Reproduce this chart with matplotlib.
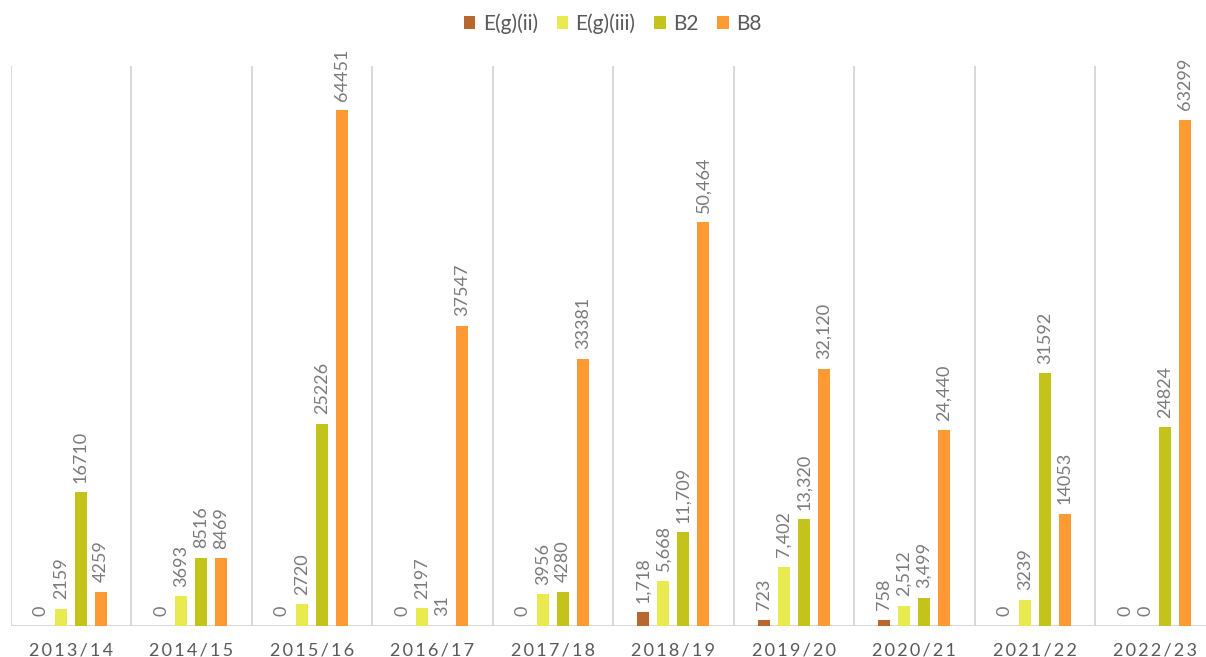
import matplotlib
matplotlib.use("Agg")
import matplotlib.pyplot as plt
import numpy as np

years = ["2013/14", "2014/15", "2015/16", "2016/17", "2017/18",
         "2018/19", "2019/20", "2020/21", "2021/22", "2022/23"]

series_names = ["E(g)(ii)", "E(g)(iii)", "B2", "B8"]

eg_ii = [0, 0, 0, 0, 0, 1718, 723, 758, 0, 0]
eg_iii = [2159, 3693, 2720, 2197, 3956, 5668, 7402, 2512, 3239, 0]
b2 = [16710, 8516, 25226, 31, 4280, 11709, 13320, 3499, 31592, 24824]
b8 = [4259, 8469, 64451, 37547, 33381, 50464, 32120, 24440, 14053, 63299]

# years whose labels use thousands separators
comma_years = ["2018/19", "2019/20", "2020/21"]

colors = ["#b8672e", "#e8ea50", "#c3c31b", "#fe9a33"]

plt.rcParams["font.family"] = ["Lato", "DejaVu Sans"]

fig = plt.figure(figsize=(12.06, 6.57), dpi=100)
ax = fig.add_axes([10.5 / 1206, 31 / 657, 1195.5 / 1206, 560 / 657])

x = np.arange(len(years))
step = 0.166
width = 0.1
all_series = [eg_ii, eg_iii, b2, b8]

for i, (name, vals, col) in enumerate(zip(series_names, all_series, colors)):
    pos = x + (i - 1.5) * step
    ax.bar(pos, vals, width=width, color=col, label=name, zorder=3)
    for p, v, yr in zip(pos, vals, years):
        txt = f"{v:,}" if yr in comma_years else str(v)
        ax.annotate(txt, (p, v), xytext=(0, 7), textcoords="offset points",
                    rotation=90, ha="center", va="bottom",
                    fontsize=13, color="#7a7a7a")

# category separators and baseline
for k in range(len(years) + 1):
    ax.axvline(k - 0.5, color="#d6d6d6", lw=1.3, zorder=1)
ax.axhline(0, color="#d6d6d6", lw=1.3, zorder=2)

ax.set_ylim(0, 70000)
ax.set_xlim(-0.5, -0.5 + 1195.5 / 120.5)
ax.set_yticks([])
ax.set_xticks(x)
ax.set_xticklabels(["\u2009".join(y) for y in years], fontsize=13,
                   color="#595959")
ax.tick_params(axis="x", length=0, pad=12)
for s in ax.spines.values():
    s.set_visible(False)

fig.legend(loc="upper center", bbox_to_anchor=(0.508, 1.008), ncol=4,
           frameon=False, fontsize=15, labelcolor="#595959",
           handlelength=0.55, handleheight=0.55, handletextpad=0.35,
           columnspacing=0.9)

fig.savefig("out.png", dpi=100)
